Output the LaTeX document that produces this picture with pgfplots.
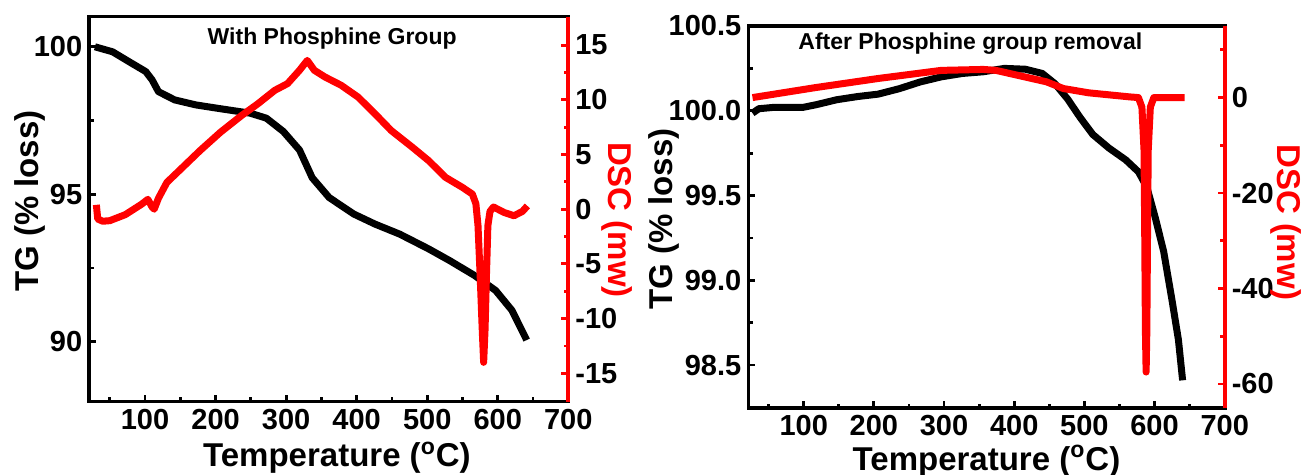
\documentclass[border=0pt]{standalone}
\usepackage{pgfplots}
\pgfplotsset{compat=1.18}
\usepackage{fontspec}
\setmainfont{Liberation Sans}

\pgfplotstableread{
T tg
29 100.0
54 99.83
77 99.5
101 99.16
110 98.88
119 98.48
142 98.2
172 98.03
207 97.9
249 97.75
272 97.58
296 97.13
319 96.5
337 95.56
361 94.89
396 94.33
426 93.99
461 93.65
502 93.15
532 92.75
567 92.25
597 91.74
620 91.07
641 90.06
}\tgA

\pgfplotstableread{
T dsc
31 0.4
33 -0.9
40 -1.1
50 -1.05
72 -0.5
95 0.45
104 0.9
110 0.2
113 0.0
119 1.0
131 2.45
148 3.5
178 5.36
207 7.04
237 8.57
260 9.64
284 10.87
302 11.48
319 12.7
330 13.6
340 12.7
355 12.09
378 11.33
402 10.25
426 8.72
449 7.19
479 5.66
502 4.44
526 2.91
550 1.99
564 1.38
569 0.5
572 -1.5
575 -6
578 -11
580 -14.0
582 -11
584 -6
586 -1.5
589 -0.2
594 0.2
600 0.0
609 -0.3
623 -0.6
635 -0.2
642 0.3
}\dscA

\pgfplotstableread{
T tg
27 99.986
36 100.012
57 100.02
99 100.02
117 100.035
147 100.065
177 100.084
206 100.098
236 100.13
266 100.17
296 100.2
326 100.22
356 100.23
386 100.25
416 100.245
440 100.22
458 100.16
476 100.07
494 99.96
512 99.86
535 99.78
559 99.71
577 99.64
589 99.55
601 99.37
613 99.17
625 98.88
634 98.65
640 98.41
}\tgB

\pgfplotstableread{
T dsc
27 0.0
117 2.1
206 4.0
296 5.7
356 5.9
374 5.7
416 4.3
446 3.3
470 1.9
506 1.0
565 0.14
577 0.0
582 -2
585 -11
586 -28.5
587 -49
588 -57.5
589 -49
590 -28.5
591 -11
594 -2
599 0.0
643 0.0
}\dscB

\pgfplotsset{
  tgaxis/.style={
    scale only axis, anchor=north west,
    xmin=21, xmax=700,
    xtick={100,200,...,700}, minor xtick={50,150,...,650},
    xtick pos=left, ytick pos=left,
    tick align=inside,
    major tick length=3.5pt, minor tick length=2.3pt,
    every tick/.style={black, line width=1.4pt},
    axis line style={line width=1.8pt},
    /pgf/number format/assume math mode=true,
    tick label style={font=\bfseries\fontsize{14.5}{15}\selectfont},
    label style={font=\bfseries\fontsize{16.5}{17}\selectfont},
    xlabel={Temperature (\textsuperscript{o}C)},
    ylabel={TG (\% loss)},
  },
  dscaxis/.style={
    scale only axis, anchor=north west,
    xmin=21, xmax=700,
    axis x line=none, axis y line*=right,
    tick align=inside,
    major tick length=3.5pt, minor tick length=2.3pt,
    every tick/.style={red, line width=1.4pt},
    axis line style={-, red, line width=1.8pt},
    /pgf/number format/assume math mode=true,
    tick label style={font=\bfseries\fontsize{14.5}{15}\selectfont},
    label style={font=\bfseries\fontsize{16.5}{17}\selectfont, red},
    ylabel={DSC (mw)},
  },
}

\begin{document}
\begin{tikzpicture}
\path[use as bounding box] (0,0) rectangle (651.5pt,-237.5pt);

% left panel
\begin{axis}[tgaxis,
  at={(44.65pt,-8.35pt)}, width=239.5pt, height=192.5pt,
  ymin=87.97, ymax=101.02, ytick={90,95,100}, minor ytick={92.5,97.5},
  xlabel style={at={(axis description cs:0.517,0)}, anchor=base, yshift=-32.5pt},
  ylabel style={at={(axis description cs:-0.123,0.521)}, anchor=center}]
\addplot[black, line width=3.5pt, line join=round] table[x=T,y=tg] {\tgA};
\node[font=\bfseries\fontsize{11.5}{12}\selectfont] at (axis description cs:0.507,0.942) {With Phosphine Group};
\end{axis}
\begin{axis}[dscaxis,
  at={(44.65pt,-8.35pt)}, width=239.5pt, height=192.5pt,
  ymin=-17.6, ymax=17.6, ytick={-15,-10,...,15}, minor ytick={-12.5,-7.5,...,12.5},
  ylabel style={at={(axis description cs:1.102,0.472)}, anchor=center, rotate=180}]
\addplot[red, line width=3.5pt, line join=round] table[x=T,y=dsc] {\dscA};
\end{axis}

% right panel
\begin{axis}[tgaxis,
  at={(374.15pt,-13pt)}, width=238.2pt, height=191.15pt,
  ymin=98.245, ymax=100.5, ytick={98.5,99,99.5,100,100.5},
  yticklabels={98.5,99.0,99.5,100.0,100.5},
  minor ytick={98.75,99.25,99.75,100.25},
  xlabel style={at={(axis description cs:0.5,0)}, anchor=base, yshift=-31pt},
  ylabel style={at={(axis description cs:-0.176,0.495)}, anchor=center}]
\addplot[black, line width=3.5pt, line join=round] table[x=T,y=tg] {\tgB};
\node[font=\bfseries\fontsize{11.5}{12}\selectfont] at (axis description cs:0.466,0.955) {After Phosphine group removal};
\end{axis}
\begin{axis}[dscaxis,
  at={(374.15pt,-13pt)}, width=238.2pt, height=191.15pt,
  ymin=-65.1, ymax=15, ytick={-60,-40,-20,0}, minor ytick={-50,-30,-10,10},
  ylabel style={at={(axis description cs:1.128,0.487)}, anchor=center, rotate=180}]
\addplot[red, line width=3.5pt, line join=round] table[x=T,y=dsc] {\dscB};
\end{axis}
\end{tikzpicture}
\end{document}
